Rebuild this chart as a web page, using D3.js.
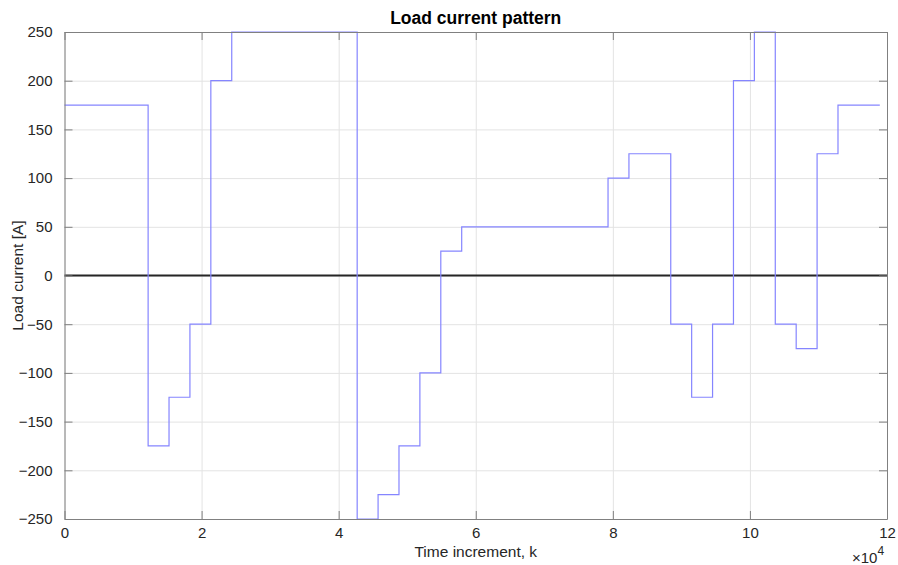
<!doctype html>
<html lang="en">
  <head>
    <meta charset="UTF-8" />
    <title>Load current pattern</title>
    <script src="https://unpkg.com/d3@7.9.0/dist/d3.min.js"></script>
    <style>
      body {
        margin: 0;
        overflow: hidden;
        background: #fff;
        font-family: 'Liberation Sans', Arial, sans-serif;
      }
      .grid line {
        stroke: #e3e3e3;
      }
      .grid path {
        display: none;
      }
    </style>
  </head>
  <body>
    <svg width="898" height="565"></svg>
    <script>
      // step pattern: time index where each level starts, and its current [A]
      const stepK = [0, 12200, 15250, 18300, 21350, 24400, 42700, 45750, 48800, 51850, 54900, 57950,
        79300, 82350, 88450, 91500, 94550, 97600, 100650, 103700, 106750, 109800, 112850, 118950];
      const stepCurrent = [175, -175, -125, -50, 200, 250, -250, -225, -175, -100, 25, 50,
        100, 125, -50, -125, -50, 200, 250, -50, -75, 125, 175, 175];
      const xTicks = [0, 20000, 40000, 60000, 80000, 100000, 120000];
      const xTickLabels = ['0', '2', '4', '6', '8', '10', '12'];
      const yTicks = [-250, -200, -150, -100, -50, 0, 50, 100, 150, 200, 250];

      const margin = { top: 32, right: 11, bottom: 46, left: 64.5 },
        width = 898 - margin.left - margin.right,
        height = 565 - margin.top - margin.bottom;

      const root = d3.select('svg');
      const svg = root
        .append('g')
        .attr('transform', `translate(${margin.left},${margin.top})`);

      const x = d3.scaleLinear().domain([0, 120000]).range([0, width]);
      const y = d3.scaleLinear().domain([-250, 250]).range([height, 0]);

      // grid
      svg
        .append('g')
        .attr('class', 'grid')
        .call(d3.axisBottom(x).tickValues(xTicks).tickSize(height).tickFormat(''));
      svg
        .append('g')
        .attr('class', 'grid')
        .call(d3.axisRight(y).tickValues(yTicks).tickSize(width).tickFormat(''));

      // zero line
      svg
        .append('line')
        .attr('x1', 0)
        .attr('x2', width)
        .attr('y1', y(0))
        .attr('y2', y(0))
        .attr('stroke', '#262626')
        .attr('stroke-width', 2);

      // load current
      const points = stepK.map((k, i) => [k, stepCurrent[i]]);
      svg
        .append('path')
        .datum(points)
        .attr('fill', 'none')
        .attr('stroke', '#8585ff')
        .attr('stroke-width', 1.2)
        .attr(
          'd',
          d3
            .line()
            .x((d) => x(d[0]))
            .y((d) => y(d[1]))
            .curve(d3.curveStepAfter),
        );

      // axes, ticks inside like matlab
      const axisColor = '#808080';
      const xAxis = svg
        .append('g')
        .attr('transform', `translate(0,${height})`)
        .call(
          d3
            .axisBottom(x)
            .tickValues(xTicks)
            .tickSizeInner(-8)
            .tickSizeOuter(0)
            .tickPadding(8)
            .tickFormat((d, i) => xTickLabels[i]),
        );
      const xTop = svg
        .append('g')
        .call(d3.axisTop(x).tickValues(xTicks).tickSizeInner(-8).tickSizeOuter(0).tickFormat(''));
      const yAxis = svg
        .append('g')
        .call(
          d3
            .axisLeft(y)
            .tickValues(yTicks)
            .tickSizeInner(-8)
            .tickSizeOuter(0)
            .tickPadding(12),
        );
      const yRight = svg
        .append('g')
        .attr('transform', `translate(${width},0)`)
        .call(d3.axisRight(y).tickValues(yTicks).tickSizeInner(-8).tickSizeOuter(0).tickFormat(''));

      [xAxis, xTop, yAxis, yRight].forEach((g) => {
        g.attr('font-size', 15).attr('font-family', "'Liberation Sans', Arial, sans-serif");
        g.select('.domain').attr('stroke', axisColor);
        g.selectAll('.tick line').attr('stroke', axisColor);
        g.selectAll('.tick text').attr('fill', '#262626');
      });

      // title and labels
      root
        .append('text')
        .attr('x', margin.left + width / 2)
        .attr('y', 24)
        .attr('text-anchor', 'middle')
        .attr('font-size', 17.5)
        .attr('font-weight', 'bold')
        .attr('fill', '#000')
        .text('Load current pattern');

      root
        .append('text')
        .attr('x', margin.left + width / 2)
        .attr('y', 557)
        .attr('text-anchor', 'middle')
        .attr('font-size', 15.5)
        .attr('fill', '#262626')
        .text('Time increment, k');

      root
        .append('text')
        .attr('transform', `translate(23,${margin.top + height / 2}) rotate(-90)`)
        .attr('text-anchor', 'middle')
        .attr('font-size', 15.5)
        .attr('fill', '#262626')
        .text('Load current [A]');

      const exp = root
        .append('text')
        .attr('x', 852)
        .attr('y', 563)
        .attr('font-size', 15)
        .attr('fill', '#262626');
      exp.append('tspan').text('\u00d710');
      exp.append('tspan').attr('dy', -8).attr('font-size', 12).text('4');
    </script>
  </body>
</html>
